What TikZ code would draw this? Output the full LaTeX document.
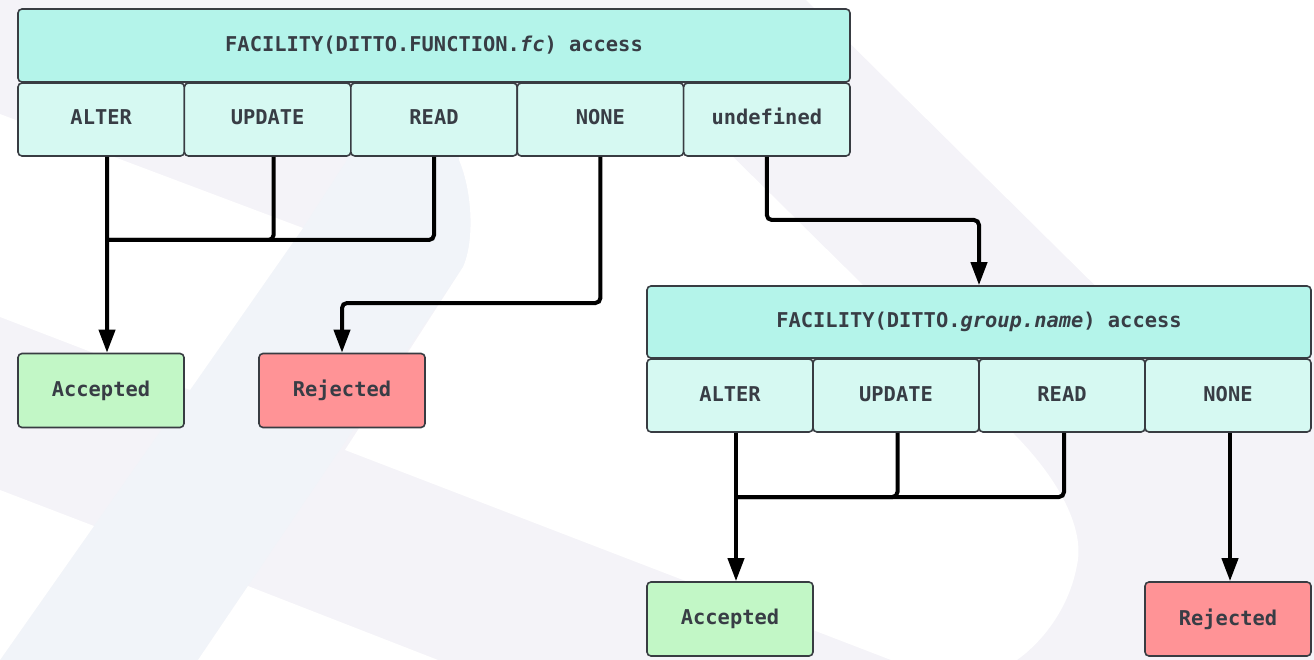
\documentclass[tikz,border=0pt]{standalone}
\usepackage{fontspec}
\newfontfamily\dmono{DejaVu Sans Mono}[BoldFont={DejaVu Sans Mono Bold},ItalicFont={DejaVu Sans Mono Oblique},BoldItalicFont={DejaVu Sans Mono Bold Oblique}]
\usetikzlibrary{arrows.meta}
\definecolor{hdr}{HTML}{B4F4EA}
\definecolor{cell}{HTML}{D6F9F2}
\definecolor{okc}{HTML}{C2F7C6}
\definecolor{noc}{HTML}{FF9396}
\definecolor{bord}{HTML}{383C42}
\definecolor{txt}{HTML}{383D45}
\definecolor{wmlav}{HTML}{F4F3F8}
\definecolor{wmblue}{HTML}{F1F4F9}
\begin{document}
\begin{tikzpicture}[x=1pt,y=-1pt,
  box/.style={draw=bord, line width=1.6pt, rounded corners=4pt, inner sep=0pt, text=txt,
    font=\dmono\bfseries\fontsize{20.4}{24}\selectfont},
  hdrbox/.style={box, fill=hdr, minimum height=73pt},
  cellbox/.style={box, fill=cell, minimum height=73pt, text depth=4pt, text height=15pt},
  resbox/.style={box, minimum width=166pt, minimum height=74pt},
  conn/.style={line width=4pt, draw=black, rounded corners=5pt},
  arr/.style={conn, -{Triangle[width=16pt,length=23pt]}},
  wm/.style={wmlav},
  wmhole/.style={white},
]
\useasboundingbox (0,0) rectangle (1314,660);
% faint watermark
\fill[wm] (0,0) rectangle (1314,660);
\fill[wmblue] (0,660) -- (198,660) -- (463,267) .. controls (475,240) and (472,190) .. (459,160)
  -- (459,140) -- (360,140) -- (303,228) -- cycle;
\fill[wmhole] (806,0) -- (1314,0) -- (1314,330) -- (1130,320) -- cycle;
\fill[wmhole] (459,140) -- (716,140) -- (1013,433) .. controls (1060,480) and (1085,530) .. (1077,565)
  .. controls (1070,605) and (1045,640) .. (1017,660) -- (891,660) -- (345,450) -- (463,267)
  .. controls (475,240) and (472,190) .. (459,160) -- cycle;
\fill[wmhole] (0,114) -- (303,228) -- (190,390) -- (0,317) -- cycle;
\fill[wmhole] (248,586) -- (198,660) -- (438,660) -- cycle;
\fill[wmhole] (0,490) -- (94,526) -- (0,660) -- cycle;

% first table
\node[hdrbox, minimum width=832pt] (h1) at (434,45.5) {FACILITY(DITTO.FUNCTION.\textit{fc}) access};
\node[cellbox, minimum width=166.4pt] (a1) at (101.2,119.5) {ALTER};
\node[cellbox, minimum width=166.4pt] (u1) at (267.6,119.5) {UPDATE};
\node[cellbox, minimum width=166.4pt] (r1) at (434,119.5) {READ};
\node[cellbox, minimum width=166.4pt] (n1) at (600.4,119.5) {NONE};
\node[cellbox, minimum width=166.4pt] (d1) at (766.8,119.5) {undefined};

% second table
\node[hdrbox, minimum width=664pt, minimum height=72pt] (h2) at (979,322) {FACILITY(DITTO.\textit{group.name}) access};
\node[cellbox, minimum width=166pt] (a2) at (730,395.5) {ALTER};
\node[cellbox, minimum width=166pt] (u2) at (896,395.5) {UPDATE};
\node[cellbox, minimum width=166pt] (r2) at (1062,395.5) {READ};
\node[cellbox, minimum width=166pt] (n2) at (1228,395.5) {NONE};

% results
\node[resbox, fill=okc] (acc1) at (101,390.5) {Accepted};
\node[resbox, fill=noc] (rej1) at (342,390.5) {Rejected};
\node[resbox, fill=okc] (acc2) at (730,619) {Accepted};
\node[resbox, fill=noc] (rej2) at (1228,619) {Rejected};

% connectors, first table
\coordinate (j1) at (107,240);
\coordinate (k1) at (0,303);
\coordinate (k2) at (0,220);
\draw[conn] ([xshift=6pt]u1.south) |- (j1);
\draw[conn] (r1.south) |- (j1);
\draw[arr] ([xshift=6pt]a1.south) -- ([xshift=6pt]acc1.north);
\draw[arr] (n1.south) |- (rej1.north |- k1) -- (rej1.north);
\draw[arr] (d1.south) |- (h2.north |- k2) -- (h2.north);

% connectors, second table
\coordinate (j2) at (736,497);
\draw[conn] ([xshift=1.5pt]u2.south) |- (j2);
\draw[conn] ([xshift=2pt]r2.south) |- (j2);
\draw[arr] ([xshift=6pt]a2.south) -- ([xshift=6pt]acc2.north);
\draw[arr] ([xshift=2pt]n2.south) -- ([xshift=2pt]rej2.north);
\end{tikzpicture}
\end{document}
